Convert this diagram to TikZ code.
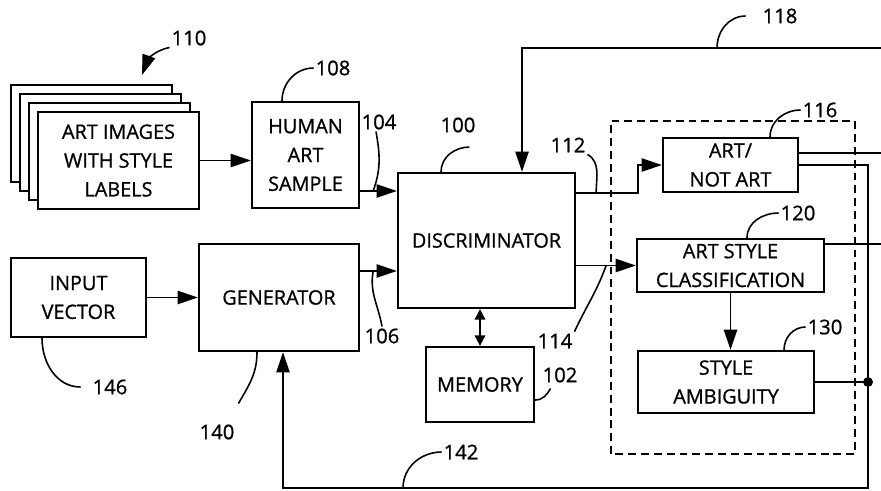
\documentclass[tikz,border=0pt]{standalone}
\usepackage{fontspec}
\setmainfont{Open Sans}[FakeBold=0.9]
\usepackage{tikz}
\usetikzlibrary{arrows.meta, calc}

\tikzset{
    block/.style={draw, line width=1.3pt, fill=white, align=center, inner sep=0pt,
        font=\fontsize{11.3}{16.4}\selectfont},
    wire/.style={line width=1.1pt},
    leader/.style={line width=0.9pt},
    num/.style={font=\fontsize{11.5}{13}\selectfont, inner sep=1pt},
    >={Triangle[length=11.5pt, width=7.5pt]}
}

\begin{document}
\begin{tikzpicture}
    \useasboundingbox (0,0) rectangle (17.62,9.8);

    \node[block, minimum width=3.22cm, minimum height=1.94cm] (art3) at (1.83, 7.13) {};
    \node[block, minimum width=3.22cm, minimum height=1.94cm] (art2) at (2.01, 6.95) {};
    \node[block, minimum width=3.22cm, minimum height=1.94cm] (art1) at (2.19, 6.77) {};
    \node[block, minimum width=3.22cm, minimum height=1.94cm] (art) at (2.37, 6.59) {ART IMAGES\\WITH STYLE\\LABELS};

    \node[block, minimum width=2.14cm, minimum height=2.12cm] (human) at (6.11, 6.70) {HUMAN\\ART\\SAMPLE};
    \node[block, minimum width=3.54cm, minimum height=2.70cm] (disc) at (9.73, 4.99) {DISCRIMINATOR};
    \node[block, minimum width=2.70cm, minimum height=1.58cm] (input) at (1.57, 3.85) {INPUT\\VECTOR};
    \node[block, minimum width=3.20cm, minimum height=2.14cm] (gen) at (5.58, 3.85) {GENERATOR};
    \node[block, minimum width=2.16cm, minimum height=1.50cm] (mem) at (9.60, 2.11) {MEMORY};

    \draw[wire, dash pattern=on 4.5pt off 2.8pt] (12.22, 0.72) rectangle (17.10, 7.38);

    \node[block, minimum width=2.70cm, minimum height=1.08cm] (artnot) at (14.61, 6.50) {ART/\\NOT ART};
    \node[block, minimum width=3.74cm, minimum height=1.06cm] (style) at (14.61, 4.49) {ART STYLE\\CLASSIFICATION};
    \node[block, minimum width=3.52cm, minimum height=1.24cm] (ambig) at (14.52, 2.16) {STYLE\\AMBIGUITY};

    \coordinate (edge) at (17.62, 0);
    \coordinate (bus) at (17.36, 0.04);
    \coordinate (fbtop) at (17.62, 8.84);
    \coordinate (fbin) at (10.44, 0);
    \coordinate (stacktop) at (2.84, 8.30);
    \coordinate (hw) at ([yshift=-0.72cm]human.east);
    \coordinate (gw) at ([yshift=0.53cm]gen.east);
    \coordinate (dw) at ([yshift=0.95cm]disc.east);
    \coordinate (sw) at (disc.east |- style.west);

    \draw[wire, ->] (art.east) -- (art.east -| human.west);
    \draw[wire, ->] (hw) -- (hw -| disc.west);
    \draw[wire, ->] (input) -- (gen);
    \draw[wire, ->] (gw) -- (gw -| disc.west);
    \draw[wire, {Triangle[length=6pt, width=6pt]}-{Triangle[length=6pt, width=6pt]}] (mem.north |- disc.south) -- (mem.north);
    \draw[wire, ->] (dw) -- ++(1.24, 0) |- (artnot.west);
    \draw[wire, ->] (sw) -- (style.west);
    \draw[wire, ->] (style.south) -- (style.south |- ambig.north);
    \draw[wire, ->] (fbtop) -| (disc.north -| fbin);

    \draw[wire] ([yshift=0.24cm]artnot.east) -- ([yshift=0.24cm]artnot.east -| edge);
    \draw[wire] ([yshift=0.43cm]style.east) -- ([yshift=0.43cm]style.east -| edge);
    \draw[wire, ->] (artnot.east) -| (bus) -| ([xshift=0.08cm]gen.south);
    \draw[wire] (ambig.east) -- (bus |- ambig.east) node[circle, fill, inner sep=2pt] {};

    \node[num] (l110) at (3.78, 9.04) {110};
    \node[num] (l108) at (6.66, 8.44) {108};
    \node[num] (l104) at (7.58, 7.36) {104};
    \node[num] (l100) at (9.16, 7.30) {100};
    \node[num] (l112) at (11.36, 6.90) {112};
    \node[num] (l118) at (15.60, 9.48) {118};
    \node[num] (l116) at (16.40, 7.60) {116};
    \node[num] (l120) at (15.96, 5.54) {120};
    \node[num] (l130) at (16.50, 3.26) {130};
    \node[num] (l114) at (11.10, 2.98) {114};
    \node[num] (l102) at (11.20, 2.30) {102};
    \node[num] (l106) at (7.64, 3.08) {106};
    \node[num] (l146) at (2.20, 2.06) {146};
    \node[num] (l140) at (4.34, 1.16) {140};
    \node[num] (l142) at (9.22, 0.76) {142};

    \draw[leader, ->] (l110.south west) to[out=190, in=70] (stacktop);
    \draw[leader] ([xshift=-0.47cm]human.north) to[out=90, in=180] (l108.west);
    \draw[leader] ([xshift=-0.06cm]l104.south) to[out=-80, in=70] ($(hw)+(0.26,0)$);
    \draw[leader] ([xshift=-0.91cm]disc.north) to[out=90, in=180] ($(l100.south east)+(-0.16,-0.25)$);
    \draw[leader] (l112.south east) to[out=-30, in=90] ($(dw)+(0.40,0)$);
    \draw[leader] ([xshift=0.79cm]artnot.north) to[out=90, in=180] (l116.west);
    \draw[leader] ([xshift=0.33cm]style.north) to[out=90, in=180] (l120.west);
    \draw[leader] ([xshift=1.16cm]ambig.north) to[out=90, in=180] (l130.west);
    \draw[leader] ($(fbtop -| fbin)+(3.90,0)$) to[out=90, in=180] ([xshift=-0.3cm]l118.west);
    \draw[leader] (l114.north east) to[out=65, in=-110] ($(sw)+(0.60,0)$);
    \draw[leader] ([yshift=-0.31cm]mem.east) to[out=0, in=-120] ($(l102.south west)+(0.2,-0.08)$);
    \draw[leader] ($(gw)+(0.26,0)$) to[out=-100, in=100] (l106.north);
    \draw[leader] ([xshift=-0.73cm]input.south) to[out=-90, in=180] ([xshift=-0.2cm]l146.west);
    \draw[leader] ([xshift=-0.44cm]gen.south) to[out=-90, in=60] ($(l140.north east)+(0.04,0.38)$);
    \draw[leader] ($(bus -| l142)+(-1.16,0)$) to[out=90, in=180] (l142.west);
\end{tikzpicture}
\end{document}
